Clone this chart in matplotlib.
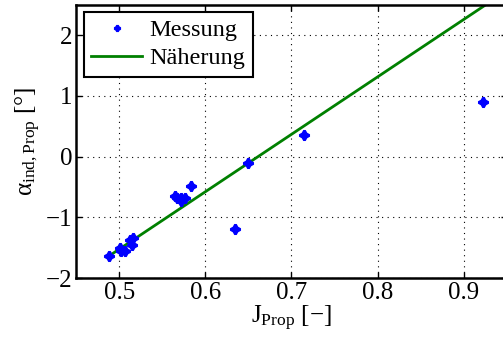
import numpy as np
import matplotlib.pyplot as plt

# measured points
j_mess = [0.4876, 0.5003, 0.502, 0.507, 0.5128, 0.5147, 0.516,
          0.565, 0.5674, 0.571, 0.572, 0.576, 0.5826,
          0.6349, 0.649, 0.715, 0.9225]
a_mess = [-1.64, -1.51, -1.55, -1.56, -1.37, -1.45, -1.34,
          -0.65, -0.69, -0.73, -0.69, -0.68, -0.49,
          -1.20, -0.10, 0.36, 0.89]

# approximation line
j_fit = [0.4876, 0.925]
a_fit = [-1.64, 2.49]

xticks = [0.5, 0.6, 0.7, 0.8, 0.9]
yticks = [-2, -1, 0, 1, 2]

plt.rcParams['font.family'] = 'serif'
plt.rcParams['font.serif'] = ['Liberation Serif', 'DejaVu Serif']
plt.rcParams['mathtext.fontset'] = 'custom'
plt.rcParams['mathtext.rm'] = 'Liberation Serif'
plt.rcParams['mathtext.it'] = 'Liberation Serif:italic'

fig = plt.figure(figsize=(5.03, 3.5), dpi=100)
ax = fig.add_axes([0.152, 0.2057, 0.855, 0.781])

ax.plot(j_mess, a_mess, marker=(4, 1, 0), color='#0000ff', markersize=7,
        markeredgewidth=2, linestyle='none', label='Messung', zorder=3)
ax.plot(j_fit, a_fit, color='#008000', linewidth=2, label='Näherung', zorder=2)

ax.set_xlim(0.45, 0.95)
ax.set_ylim(-2, 2.5)
ax.set_xticks(xticks)
ax.set_yticks(yticks)
ax.set_xticklabels(['0.5', '0.6', '0.7', '0.8', '0.9'])
ax.set_yticklabels(['\u22122', '\u22121', '0', '1', '2'])
ax.tick_params(direction='in', length=4, width=1, labelsize=18, top=True, right=True, pad=3)
ax.grid(True, linestyle=(0, (1, 4)), color='black', linewidth=0.8)
for s in ax.spines.values():
    s.set_linewidth(1.8)

ax.set_xlabel('J$_{\\mathrm{Prop}}$ [\u2212]', fontsize=18, labelpad=0)
ax.set_ylabel('\u03b1$_{\\mathrm{ind,Prop}}$ [°]', fontsize=18, labelpad=2)

leg = ax.legend(loc='upper left', fontsize=17.5, fancybox=False, framealpha=1,
                borderpad=0.3, handlelength=2.1, labelspacing=0.25,
                borderaxespad=0.3, handletextpad=0.3, markerscale=0.6)
leg.get_frame().set_edgecolor('black')
leg.get_frame().set_linewidth(1.5)

fig.savefig('out.png', dpi=100)
